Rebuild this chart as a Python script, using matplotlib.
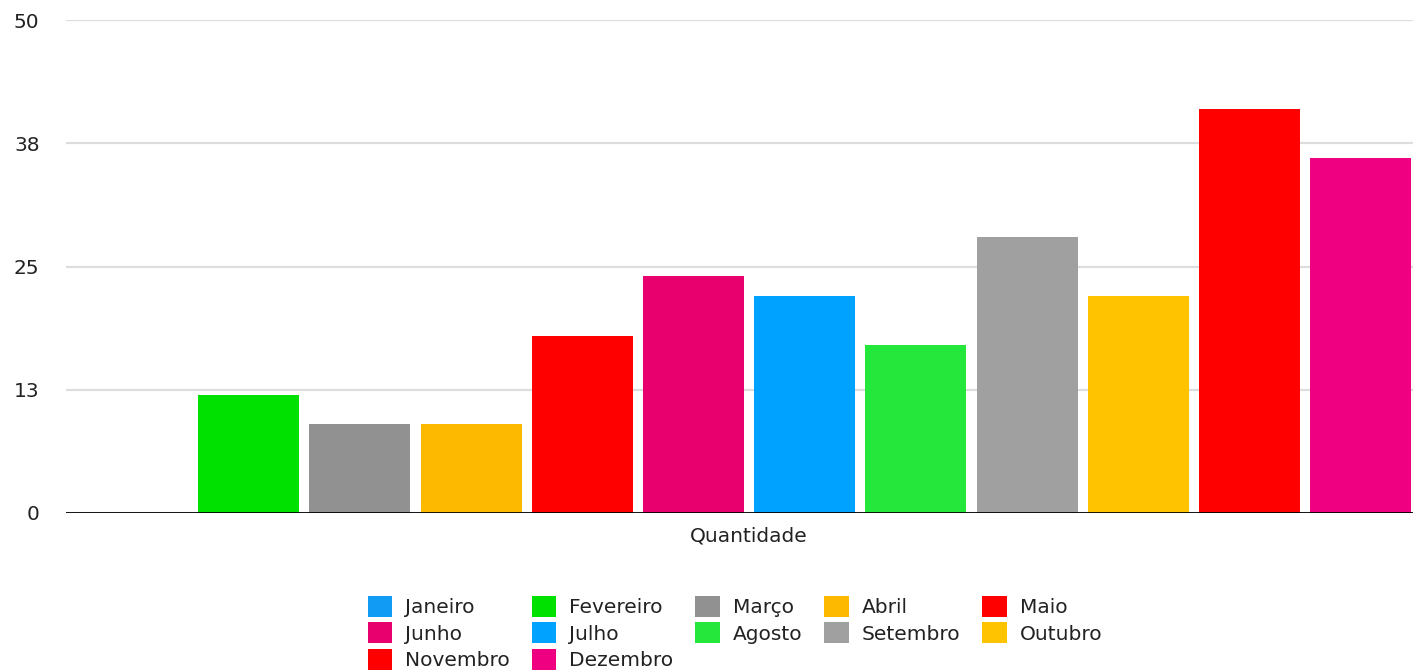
import numpy as np
import matplotlib
matplotlib.use("Agg")
from matplotlib import pyplot as plt
from matplotlib.patches import Patch

### data
meses = ["Janeiro", "Fevereiro", "Março", "Abril", "Maio", "Junho",
         "Julho", "Agosto", "Setembro", "Outubro", "Novembro", "Dezembro"]
valores = [0, 12, 9, 9, 18, 24, 22, 17, 28, 22, 41, 36]
cores = ["#129bf5", "#00e100", "#919191", "#fdb800", "#ff0000", "#e8006f",
         "#00a2ff", "#25e63a", "#a0a0a0", "#ffc300", "#ff0000", "#ee0081"]
yticks = [0, 12.5, 25, 37.5, 50]
ytick_labels = ["0", "13", "25", "38", "50"]
categoria = "Quantidade"

plt.rcParams["font.family"] = ["DejaVu Sans"]

fig = plt.figure(figsize=(14.13, 6.71), dpi=100)
ax = fig.add_axes([66/1413, 158/671, 1 - 66/1413, 493/671])

x = np.arange(len(meses))
ax.bar(x, valores, width=0.908, color=cores, zorder=3)

ax.set_ylim(0, 50)
ax.set_xlim(-0.643, 11.47)
ax.set_yticks(yticks)
ax.set_yticklabels(ytick_labels)
ax.yaxis.grid(True, color="#dddddd", linewidth=1.6, zorder=0)
ax.axhline(0, color="black", linewidth=2, zorder=4)

ax.set_xticks([(len(meses) - 1) / 2])
ax.set_xticklabels([categoria])
ax.tick_params(axis="both", length=0, labelsize=14.5, colors="#222222")
ax.tick_params(axis="y", pad=19)
ax.tick_params(axis="x", pad=10)
for s in ax.spines.values():
    s.set_visible(False)

### legend rows go across, matplotlib fills down the columns -> reorder
ordem = [0, 5, 10, 1, 6, 11, 2, 7, 3, 8, 4, 9]
handles = [Patch(facecolor=cores[i], label=meses[i]) for i in ordem]
leg = fig.legend(handles=handles, ncol=5, loc="center",
                 bbox_to_anchor=(735/1413, 38/671), frameon=False, fontsize=14.5,
                 handlelength=1.2, handleheight=1.24, handletextpad=0.65,
                 labelspacing=0.25, columnspacing=1.1, borderpad=0.0)
for t in leg.get_texts():
    t.set_color("#222222")

fig.savefig("out.png", dpi=100)
